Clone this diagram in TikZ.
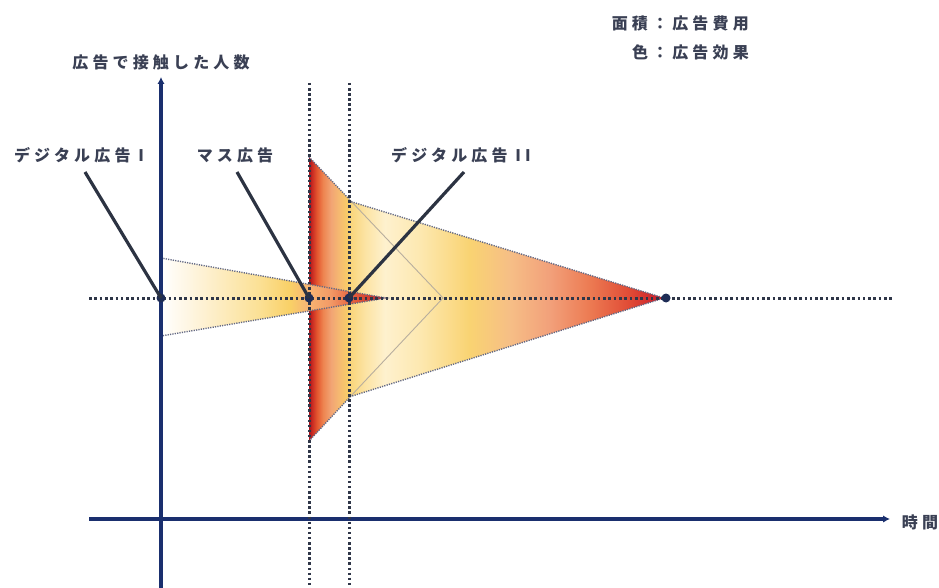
\documentclass[tikz,border=0pt]{standalone}
\usepackage{fontspec}
\newfontfamily\jp[LetterSpace=26]{Noto Sans CJK JP}
\usetikzlibrary{arrows.meta}
\definecolor{axisblue}{HTML}{1A2F6E}
\definecolor{dotnavy}{HTML}{2F3648}
\definecolor{pinnavy}{HTML}{1E2C55}
\definecolor{callout}{HTML}{2C3342}
\definecolor{txt}{HTML}{3A4054}
\definecolor{edgegrey}{HTML}{626884}
\definecolor{thingrey}{HTML}{B8AE9E}
% digital I
\definecolor{aA}{HTML}{FFFFFF}
\definecolor{aB}{HTML}{FEF2D6}
\definecolor{aC}{HTML}{FBE094}
\definecolor{aD}{HTML}{F9D066}
\definecolor{aE}{HTML}{F7B874}
\definecolor{aF}{HTML}{F39A66}
\definecolor{aG}{HTML}{E35A3A}
\definecolor{aH}{HTML}{B81A26}
% mass
\definecolor{mA}{HTML}{A3131C}
\definecolor{mB}{HTML}{C92A22}
\definecolor{mC}{HTML}{E4572F}
\definecolor{mD}{HTML}{EE8450}
\definecolor{mE}{HTML}{F2A474}
\definecolor{mF}{HTML}{F6BC70}
\definecolor{mG}{HTML}{F9CF66}
% digital II
\definecolor{bA}{HTML}{F9D477}
\definecolor{bB}{HTML}{FCE3A2}
\definecolor{bC}{HTML}{FEF1CE}
\definecolor{bD}{HTML}{FDE8B0}
\definecolor{bE}{HTML}{F9D372}
\definecolor{bF}{HTML}{F6BE86}
\definecolor{bG}{HTML}{F2A07A}
\definecolor{bH}{HTML}{EC7A52}
\definecolor{bI}{HTML}{E04A35}
\definecolor{bJ}{HTML}{C8182A}
\pgfdeclarehorizontalshading{gradI}{100bp}{color(0bp)=(aA); color(25bp)=(aA); color(33.7bp)=(aB); color(47bp)=(aC); color(53.7bp)=(aD); color(57bp)=(aE); color(62.6bp)=(aF); color(68.1bp)=(aG); color(75bp)=(aH); color(100bp)=(aH)}
\pgfdeclarehorizontalshading{gradM}{100bp}{color(0bp)=(mA); color(25bp)=(mA); color(28.75bp)=(mB); color(35bp)=(mC); color(42.5bp)=(mD); color(52.5bp)=(mE); color(63.75bp)=(mF); color(75bp)=(mG); color(100bp)=(mG)}
\pgfdeclarehorizontalshading{gradII}{100bp}{color(0bp)=(bA); color(25bp)=(bA); color(27.5bp)=(bB); color(30.7bp)=(bC); color(36.3bp)=(bD); color(44.2bp)=(bE); color(50.6bp)=(bF); color(56.9bp)=(bG); color(63.3bp)=(bH); color(69.6bp)=(bI); color(75bp)=(bJ); color(100bp)=(bJ)}
\tikzset{
  lbl/.style={font=\jp\bfseries\fontsize{16}{18}\selectfont, text=txt, inner sep=0pt},
  pin/.style={circle, fill=pinnavy, inner sep=0pt, minimum size=9pt},
  bigdots/.style={draw=dotnavy, line width=3pt, dash pattern=on 2.6pt off 2.7pt},
  vdots/.style={draw=dotnavy, line width=3pt, dash pattern=on 2.5pt off 2.6pt},
  edgedots/.style={draw=edgegrey, line width=1.4pt, dash pattern=on 1.2pt off 1.2pt},
  axisline/.style={draw=axisblue, line width=3.2pt},
  calloutline/.style={draw=callout, line width=3.2pt},
}
\begin{document}
\begin{tikzpicture}[x=1pt,y=-1pt]
\useasboundingbox (0,0) rectangle (939,588);
% triangles
\shade[shading=gradM] (309,157) -- (349,199) -- (349,398) -- (309,441) -- cycle;
\shade[shading=gradII] (349,201) -- (664,298) -- (349,397) -- cycle;
\shade[shading=gradI] (161,258) -- (386,298) -- (161,336) -- cycle;
\draw[thingrey, line width=0.9pt] (349,199) -- (443,298) -- (349,398);
\path[edgedots] (309,157) -- (349,199);
\path[edgedots] (309,441) -- (349,398);
\path[edgedots] (349,201) -- (664,298) -- (349,397);
\path[edgedots] (161,258) -- (386,298) -- (161,336);
% axes
\coordinate (ybot) at (161,588);
\coordinate (ytop) at (161,77);
\coordinate (xleft) at (89,519);
\coordinate (xright) at (890,519);
\draw[axisline, -{Latex[length=7pt,width=7.5pt]}] (ybot) -- (ytop);
\draw[axisline, -{Latex[length=7pt,width=7.5pt]}] (xleft) -- (xright);
% dotted guides
\coordinate (hl) at (89,298);
\coordinate (hr) at (892,298);
\coordinate (v1t) at (309,83);
\coordinate (v1b) at (309,588);
\coordinate (v2t) at (349,83);
\coordinate (v2b) at (349,588);
\path[bigdots] (hl) -- (hr);
\path[vdots] (v1t) -- (v1b);
\path[vdots] (v2t) -- (v2b);
% labels
\node[lbl] (ylab) at (161,62) {広告で接触した人数};
\node[lbl] (xlab) at (920,522) {時間};
\node[lbl, anchor=east] (leg1) at (749,23) {面積：広告費用};
\node[lbl, anchor=east] (leg2) at (749,52) {色：広告効果};
\node[lbl] (l1) at (79,155) {デジタル広告 I};
\node[lbl] (l2) at (235,155) {マス広告};
\node[lbl] (l3) at (461,155) {デジタル広告 II};
% pins
\node[pin] (d1) at (161,298) {};
\node[pin] (d2) at (309,298) {};
\node[pin] (d3) at (349,298) {};
\node[pin] (d4) at (666,298) {};
% callouts
\coordinate (c1) at (85,172);
\coordinate (c2) at (237,172);
\coordinate (c3) at (464,172);
\draw[calloutline] (c1) -- (d1.center);
\draw[calloutline] (c2) -- (d2.center);
\draw[calloutline] (c3) -- (d3.center);
\end{tikzpicture}
\end{document}
